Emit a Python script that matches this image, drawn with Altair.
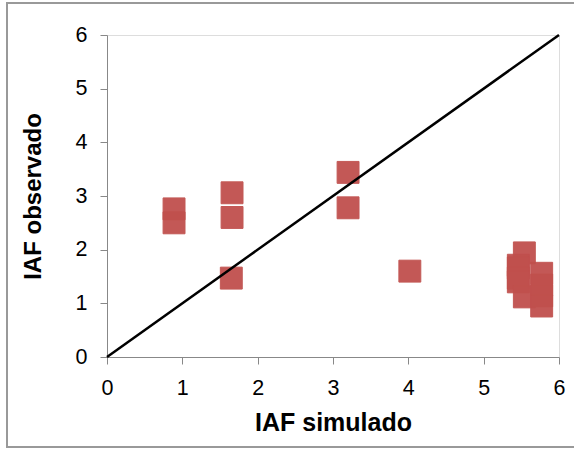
import altair as alt
import pandas as pd

# Observed vs simulated LAI (IAF)
iaf_simulado = [0.89, 0.89, 1.66, 1.66, 1.65, 3.20, 3.20, 4.02,
                5.54, 5.46, 5.46, 5.46, 5.46, 5.54,
                5.77, 5.77, 5.77, 5.77]
iaf_observado = [2.76, 2.50, 3.06, 2.60, 1.47, 3.44, 2.78, 1.60,
                 1.94, 1.71, 1.66, 1.47, 1.40, 1.12,
                 1.56, 1.34, 1.14, 0.95]

line_x = [0, 6]
line_y = [0, 6]
tick_values = [0, 1, 2, 3, 4, 5, 6]

pts = pd.DataFrame({"sim": iaf_simulado, "obs": iaf_observado})
ln = pd.DataFrame({"sim": line_x, "obs": line_y})

xscale = alt.Scale(domain=[0, 6], nice=False, zero=True)
yscale = alt.Scale(domain=[0, 6], nice=False, zero=True)

axis_common = dict(
    grid=False,
    domainColor="#888888",
    tickColor="#888888",
    tickSize=7,
    format="d",
    labelFlush=False,
    labelOverlap=False,
    labelFont="Liberation Sans",
    labelFontSize=21.5,
    labelColor="#000000",
    titleFont="Liberation Sans",
    titleFontWeight="bold",
    titleColor="#000000",
    values=tick_values,
)

frame = alt.Chart(pd.DataFrame({"a": [0]})).mark_rect(
    fill=None, stroke="#999999", strokeWidth=2, clip=False
).encode(
    x=alt.value(-100), x2=alt.value(470),
    y=alt.value(-32), y2=alt.value(412),
)

points = alt.Chart(pts).mark_point(
    shape="square", filled=True, size=480, color="#C0504D", opacity=0.95,
    stroke="#C0504D", strokeWidth=1
).encode(
    x=alt.X("sim:Q", scale=xscale,
            axis=alt.Axis(title="IAF simulado", titleFontSize=25, labelPadding=13,
                          titlePadding=12, **axis_common)),
    y=alt.Y("obs:Q", scale=yscale,
            axis=alt.Axis(title="IAF observado", titleFontSize=24, labelPadding=13,
                          titlePadding=30, **axis_common)),
)

line = alt.Chart(ln).mark_line(color="black", strokeWidth=2.5).encode(
    x=alt.X("sim:Q", scale=xscale),
    y=alt.Y("obs:Q", scale=yscale),
)

chart = alt.layer(frame, points, line).properties(
    width=452, height=322,
    autosize=alt.AutoSizeParams(type="none"),
    padding={"left": 107, "top": 35, "right": 15, "bottom": 93},
).configure_view(stroke=None).configure(background="white")

chart.save("out.html", embed_options={"renderer": "svg", "actions": False})
